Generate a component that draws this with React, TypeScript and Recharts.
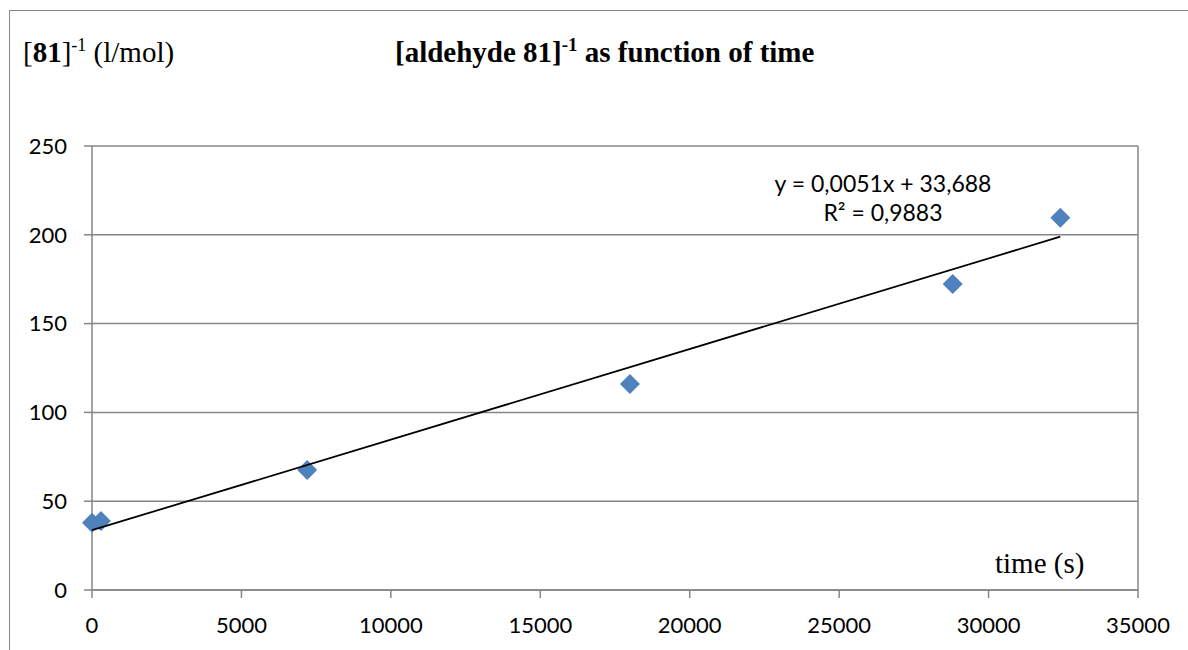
import { ScatterChart, Scatter, XAxis, YAxis, CartesianGrid, ReferenceLine } from "recharts";

// measured points: time (s) vs 1/[aldehyde 81] (l/mol)
const timeS = [0, 300, 7200, 18000, 28800, 32400];
const invConc = [37.8, 38.9, 67.6, 116.0, 172.3, 209.6];

// linear trendline as reported on the chart
const slope = 0.0051;
const intercept = 33.688;
const fitRange = [0, 32400];
const equationLabel = "y = 0,0051x + 33,688";
const r2Label = "R² = 0,9883";

const xTicks = [0, 5000, 10000, 15000, 20000, 25000, 30000, 35000];
const yTicks = [0, 50, 100, 150, 200, 250];

const points = timeS.map((t, i) => ({ x: t, y: invConc[i] }));
const trend = fitRange.map((t) => ({ x: t, y: slope * t + intercept }));

const GRID = "#868686";
const MARKER = "#4F81BD";
const SANS = "Lato, 'Open Sans', sans-serif";
const SERIF = "'Liberation Serif', 'Times New Roman', serif";

function Diamond(props: any) {
  const { cx, cy } = props;
  if (cx == null || cy == null) return <g />;
  const r = 10;
  return <polygon points={`${cx},${cy - r} ${cx + r},${cy} ${cx},${cy + r} ${cx - r},${cy}`} fill={MARKER} />;
}

export default function App() {
  return (
    <div style={{ position: "absolute", left: 0, top: 0, width: 1188, height: 650, overflow: "hidden", background: "#fff" }}>
      <div
        style={{
          position: "absolute",
          left: 9,
          top: 10,
          width: 1300,
          height: 800,
          borderLeft: `1px solid ${GRID}`,
          borderTop: `1px solid ${GRID}`,
        }}
      />
      <div style={{ position: "absolute", left: 0, top: 0 }}>
        <ScatterChart width={1188} height={650} margin={{ top: 146, right: 50, bottom: 30, left: 32 }}>
          <CartesianGrid vertical={false} stroke={GRID} strokeWidth={1.5} />
          <XAxis
            type="number"
            dataKey="x"
            domain={[0, 35000]}
            ticks={xTicks}
            height={30}
            stroke={GRID}
            strokeWidth={1.5}
            tickSize={8}
            tickMargin={19}
            tick={{ fill: "#000", fontSize: 22, fontFamily: SANS }}
          />
          <YAxis
            type="number"
            dataKey="y"
            domain={[0, 250]}
            ticks={yTicks}
            width={60}
            stroke={GRID}
            strokeWidth={1.5}
            tickSize={8}
            tickMargin={17}
            tick={{ fill: "#000", fontSize: 22, fontFamily: SANS }}
          />
          <ReferenceLine x={35000} stroke={GRID} strokeWidth={1.5} />
          <Scatter data={points} shape={(p: any) => <Diamond {...p} />} isAnimationActive={false} />
          <Scatter
            data={trend}
            line={{ stroke: "#000", strokeWidth: 1.75 }}
            shape={() => <g />}
            isAnimationActive={false}
          />
        </ScatterChart>
      </div>
      <svg width={1188} height={650} style={{ position: "absolute", left: 0, top: 0, pointerEvents: "none" }}>
        <text x={23} y={62} fontFamily={SERIF} fontSize={29} fill="#000">
          <tspan>[</tspan>
          <tspan fontWeight="bold">81</tspan>
          <tspan>]</tspan>
          <tspan fontSize={18} dy={-11}>-1</tspan>
          <tspan dy={11}> (l/mol)</tspan>
        </text>
        <text x={395} y={62} fontFamily={SERIF} fontSize={29} fontWeight="bold" fill="#000">
          <tspan>[aldehyde 81]</tspan>
          <tspan fontSize={19} dy={-11}>-1</tspan>
          <tspan dy={11}> as function of time</tspan>
        </text>
        <text x={995} y={573} fontFamily={SERIF} fontSize={29} fill="#000">
          time (s)
        </text>
        <text x={883} y={192} textAnchor="middle" fontFamily={SANS} fontSize={23} fill="#000">
          {equationLabel}
        </text>
        <text x={883} y={221} textAnchor="middle" fontFamily={SANS} fontSize={23} fill="#000">
          {r2Label}
        </text>
      </svg>
    </div>
  );
}
